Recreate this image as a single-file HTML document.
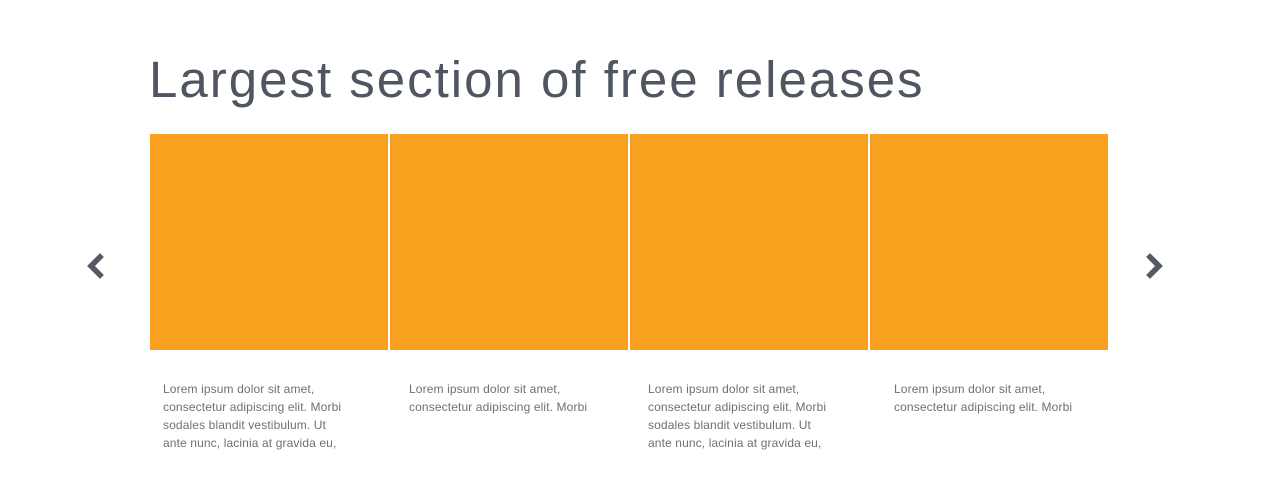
<!DOCTYPE html>
<html><head><style>
body{margin:0;width:1280px;height:500px;background:#fff;position:relative;overflow:hidden;font-family:"Liberation Sans",sans-serif}
h1{position:absolute;left:149px;top:50px;margin:0;font-weight:normal;font-size:51px;line-height:60px;color:#4f5661;letter-spacing:2px}
.b{position:absolute;top:134px;width:238px;height:216px;background:#faa01f}
.t{position:absolute;top:380px;width:190px;font-size:12px;line-height:18px;color:#707070;letter-spacing:0.12px}
</style></head><body>
<h1>Largest section of free releases</h1>
<div class="b" style="left:150px"></div>
<div class="b" style="left:390px"></div>
<div class="b" style="left:630px"></div>
<div class="b" style="left:870px"></div>
<div class="t" style="left:163px">Lorem ipsum dolor sit amet,<br>consectetur adipiscing elit. Morbi<br>sodales blandit vestibulum. Ut<br>ante nunc, lacinia at gravida eu,</div>
<div class="t" style="left:409px">Lorem ipsum dolor sit amet,<br>consectetur adipiscing elit. Morbi</div>
<div class="t" style="left:648px">Lorem ipsum dolor sit amet,<br>consectetur adipiscing elit. Morbi<br>sodales blandit vestibulum. Ut<br>ante nunc, lacinia at gravida eu,</div>
<div class="t" style="left:894px">Lorem ipsum dolor sit amet,<br>consectetur adipiscing elit. Morbi</div>
<svg style="position:absolute;left:0;top:0" width="1280" height="500">
<polyline points="100,257 91,266 100,275" fill="none" stroke="#555a62" stroke-width="5.5" stroke-linecap="square"/>
<polyline points="1150,257 1159,266 1150,275" fill="none" stroke="#555a62" stroke-width="5.5" stroke-linecap="square"/>
</svg>
</body></html>
